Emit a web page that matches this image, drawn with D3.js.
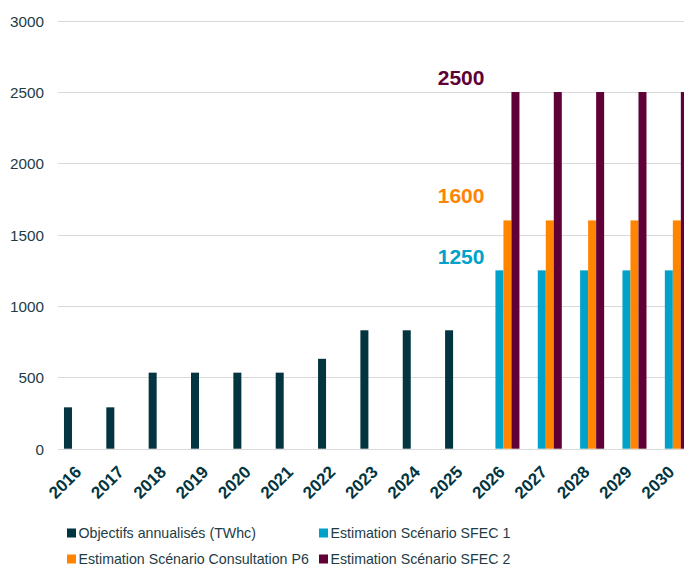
<!DOCTYPE html>
<html>
<head>
<meta charset="utf-8">
<script src="https://cdn.jsdelivr.net/npm/d3@7"></script>
<style>
  html, body { margin: 0; padding: 0; background: #ffffff; }
  svg { display: block; }
  text { font-family: "Liberation Sans", Arial, Helvetica, sans-serif; }
</style>
</head>
<body>
<div id="chart"></div>
<script>
// Years on the category axis
const years = ["2016","2017","2018","2019","2020","2021","2022","2023","2024","2025","2026","2027","2028","2029","2030"];

// Series values (TWhc), one entry per year; null = no bar
const objectifs   = [290, 290, 533, 533, 533, 533, 630, 830, 830, 830, null, null, null, null, null];
const sfec1       = [null, null, null, null, null, null, null, null, null, null, 1250, 1250, 1250, 1250, 1250];
const consultP6   = [null, null, null, null, null, null, null, null, null, null, 1600, 1600, 1600, 1600, 1600];
const sfec2       = [null, null, null, null, null, null, null, null, null, null, 2500, 2500, 2500, 2500, 2500];

const seriesNames = [
  "Objectifs annualisés (TWhc)",
  "Estimation Scénario SFEC 1",
  "Estimation Scénario Consultation P6",
  "Estimation Scénario SFEC 2"
];
const seriesColors = ["#02353f", "#00a2c9", "#ff8400", "#5f0036"];
const seriesValues = [objectifs, sfec1, consultP6, sfec2];

// Y axis ticks
const yTicks = [0, 500, 1000, 1500, 2000, 2500, 3000];

// Callout labels for the scenario levels (value, series index)
const callouts = [
  { value: 2500, series: 3, dy: -7 },
  { value: 1600, series: 2, dy: -17 },
  { value: 1250, series: 1, dy: -6 }
];

const W = 684, H = 566;
const svg = d3.select("#chart").append("svg")
  .attr("width", W).attr("height", H);

const plotLeft = 58;
const x = d3.scaleBand()
  .domain(years)
  .range([58.8, 694])
  .paddingInner(0.244)
  .paddingOuter(0.122);

const xs = d3.scaleBand()
  .domain(d3.range(seriesNames.length))
  .range([0, x.bandwidth()]);

const y = d3.scaleLinear().domain([0, 3000]).range([448.7, 20.7]);

// Horizontal gridlines
svg.append("g")
  .selectAll("line")
  .data(yTicks)
  .join("line")
  .attr("x1", plotLeft).attr("x2", W)
  .attr("y1", d => Math.round(y(d)) + 0.5)
  .attr("y2", d => Math.round(y(d)) + 0.5)
  .attr("stroke", "#d9d9d9")
  .attr("stroke-width", 1.2);

// Y axis labels
const yAxis = d3.axisLeft(y).tickValues(yTicks).tickFormat(d3.format("d")).tickSize(0).tickPadding(0);
const gy = svg.append("g").attr("transform", "translate(44,0)").call(yAxis);
gy.select(".domain").remove();
gy.selectAll("text")
  .attr("fill", "#1d3c46")
  .style("font-size", "15.3px")
  .attr("dy", "0.36em");

// Bars
const flat = [];
seriesValues.forEach((vals, si) => {
  vals.forEach((v, i) => { if (v != null) flat.push({ year: years[i], series: si, value: v }); });
});

svg.append("g")
  .selectAll("rect")
  .data(flat)
  .join("rect")
  .attr("x", d => x(d.year) + xs(d.series))
  .attr("width", xs.bandwidth())
  .attr("y", d => y(d.value))
  .attr("height", d => y(0) - y(d.value))
  .attr("fill", d => seriesColors[d.series]);

// X axis labels, rotated
const xAxis = d3.axisBottom(x).tickSize(0).tickPadding(0);
const gx = svg.append("g").call(xAxis);
gx.select(".domain").remove();
gx.selectAll(".tick")
  .attr("transform", d => `translate(${x(d) + x.bandwidth() / 2 + 2.5},473)`);
gx.selectAll("text")
  .attr("x", 0).attr("y", 0).attr("dy", 0)
  .attr("transform", "rotate(-45)")
  .attr("text-anchor", "end")
  .attr("fill", "#02353f")
  .style("font-size", "17px")
  .style("font-weight", "bold");

// Scenario callouts, centred over the 2025 slot
const calloutX = x("2025") + x.bandwidth() / 2;
svg.append("g")
  .selectAll("text")
  .data(callouts)
  .join("text")
  .attr("x", calloutX)
  .attr("y", d => y(d.value) + d.dy)
  .attr("text-anchor", "middle")
  .attr("fill", d => seriesColors[d.series])
  .style("font-size", "21px")
  .style("font-weight", "bold")
  .text(d => d.value);

// Legend, two columns by two rows
const legendPos = [
  { x: 67, y: 533 }, { x: 319, y: 533 },
  { x: 67, y: 559 }, { x: 319, y: 559 }
];
const lg = svg.append("g")
  .selectAll("g")
  .data(seriesNames)
  .join("g")
  .attr("transform", (d, i) => `translate(${legendPos[i].x},${legendPos[i].y})`);
lg.append("rect")
  .attr("x", 0).attr("y", -4.5)
  .attr("width", 9).attr("height", 9)
  .attr("fill", (d, i) => seriesColors[i]);
lg.append("text")
  .attr("x", 11.5).attr("y", 0)
  .attr("dy", "0.36em")
  .attr("fill", "#1d3c46")
  .style("font-size", "14.2px")
  .text(d => d);
</script>
</body>
</html>
